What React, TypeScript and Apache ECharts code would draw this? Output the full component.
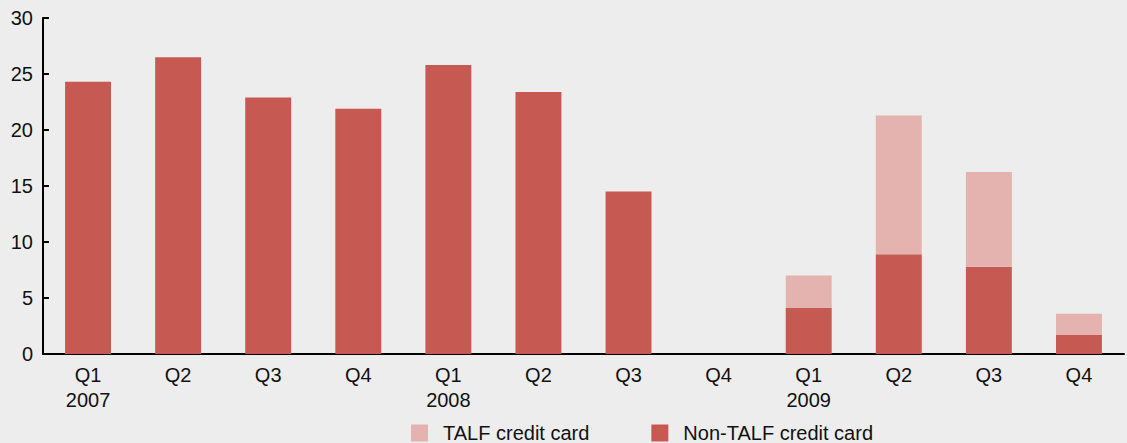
import React, { useEffect, useRef } from "react";
import * as echarts from "echarts";

const quarters = ["Q1\n2007", "Q2", "Q3", "Q4", "Q1\n2008", "Q2", "Q3", "Q4", "Q1\n2009", "Q2", "Q3", "Q4"];
const nonTalf = [24.3, 26.5, 22.9, 21.9, 25.8, 23.4, 14.5, 0, 4.1, 8.9, 7.8, 1.7];
const talf = [0, 0, 0, 0, 0, 0, 0, 0, 2.9, 12.4, 8.45, 1.9];
const seriesNames = ["TALF credit card", "Non-TALF credit card"];

const FONT = "'Liberation Sans', Arial, Helvetica, sans-serif";

export default function App() {
  const ref = useRef<HTMLDivElement>(null);
  useEffect(() => {
    if (!ref.current) return;
    const chart = echarts.init(ref.current, undefined, { renderer: "svg" });
    chart.setOption({
      animation: false,
      backgroundColor: "#EDEDED",
      textStyle: { fontFamily: FONT },
      grid: { left: 43, right: 3, top: 18, bottom: 89, containLabel: false },
      legend: {
        data: seriesNames,
        left: 411,
        top: 423,
        padding: 0,
        itemWidth: 17,
        itemHeight: 17,
        itemGap: 62,
        icon: "rect",
        textStyle: { fontFamily: FONT, fontSize: 20, color: "#111", padding: [0, 0, 0, 10] },
      },
      xAxis: {
        type: "category",
        data: quarters,
        axisLine: { lineStyle: { color: "#000", width: 2 } },
        axisTick: { inside: true, length: 7, lineStyle: { color: "#000", width: 2 } },
        axisLabel: { fontFamily: FONT, fontSize: 20, color: "#111", lineHeight: 25, margin: 8 },
      },
      yAxis: {
        type: "value",
        min: 0,
        max: 30,
        interval: 5,
        splitLine: { show: false },
        axisLine: { show: true, lineStyle: { color: "#000", width: 2 } },
        axisTick: { show: true, inside: true, length: 6, lineStyle: { color: "#000", width: 2 } },
        axisLabel: { fontFamily: FONT, fontSize: 20, color: "#111", margin: 10 },
      },
      series: [
        {
          name: seriesNames[1],
          type: "bar",
          stack: "total",
          data: nonTalf,
          barWidth: "51%",
          itemStyle: { color: "#C65A52" },
        },
        {
          name: seriesNames[0],
          type: "bar",
          stack: "total",
          data: talf,
          barWidth: "51%",
          itemStyle: { color: "#E4B3AF" },
        },
      ],
    });
    return () => chart.dispose();
  }, []);
  return <div ref={ref} style={{ position: "fixed", left: 0, top: 0, width: 1127, height: 443 }} />;
}
